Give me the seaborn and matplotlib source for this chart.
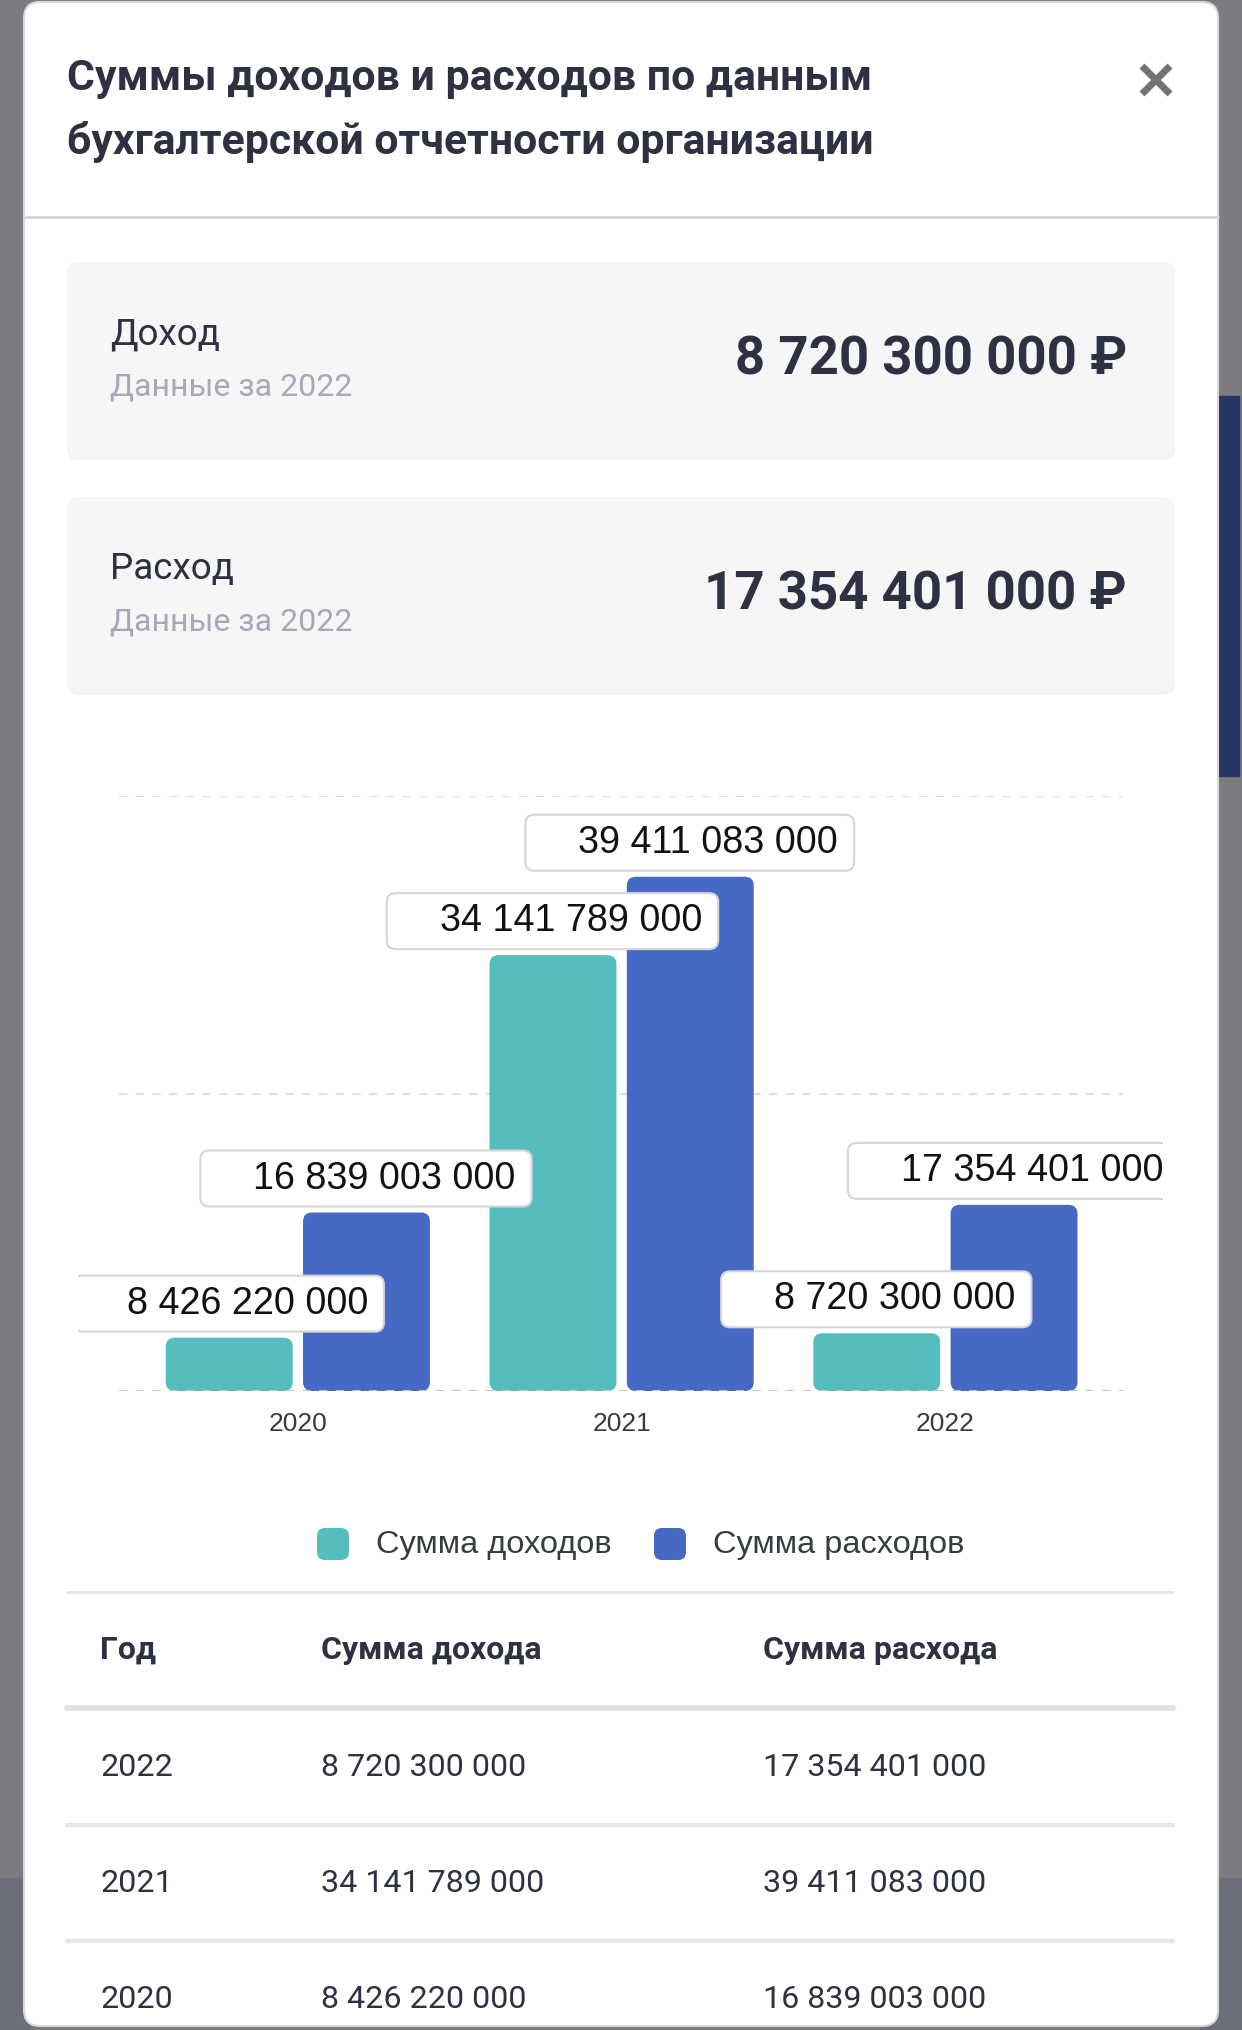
import matplotlib
matplotlib.use("Agg")
import matplotlib.pyplot as plt
from matplotlib.patches import FancyBboxPatch, Rectangle
from matplotlib.transforms import IdentityTransform
import pandas as pd
import seaborn as sns

# ---- data -------------------------------------------------------------
years = ["2020", "2021", "2022"]
income = [8426220000, 34141789000, 8720300000]
expense = [16839003000, 39411083000, 17354401000]
series_names = ["Сумма доходов", "Сумма расходов"]
title_lines = ["Суммы доходов и расходов по данным",
               "бухгалтерской отчетности организации"]
card_titles = ["Доход", "Расход"]
card_values = [8720300000, 17354401000]
card_year = "2022"
table_header = ["Год", "Сумма дохода", "Сумма расхода"]

TEAL = "#56bdbf"
BLUE = "#4669c4"
DARK = "#2d3142"
W, H = 1242, 2030

sns.set_theme(style="white")
plt.rcParams["font.family"] = ["Roboto", "DejaVu Sans"]
CHART_FONT = ["Liberation Sans", "DejaVu Sans"]


def fmt(v):
    return f"{int(round(v)):,}".replace(",", " ")


fig = plt.figure(figsize=(W / 100, H / 100), dpi=100)
fig.patch.set_facecolor("#7b7b80")

# page layer in pixel coordinates
bg = fig.add_axes([0, 0, 1, 1], zorder=0)
bg.set_xlim(0, W)
bg.set_ylim(H, 0)
bg.axis("off")

bg.add_patch(Rectangle((0, 1878), 30, H - 1878, color="#6c6f7a"))
bg.add_patch(Rectangle((1200, 1878), 42, H - 1878, color="#6c6f7a"))
bg.add_patch(Rectangle((1219, 396), 20, 380, color="#263766"))
bg.add_patch(FancyBboxPatch((24, 2), 1194, H - 6, boxstyle="round,pad=0,rounding_size=16",
                            facecolor="white", edgecolor="#d8d8dc", lw=1.5))

# header
for i, line in enumerate(title_lines):
    bg.text(67, 78 + 64 * i, line, fontsize=30.8, weight="bold", color=DARK, va="center")
bg.plot([1142, 1170], [66, 94], color="#737373", lw=5, solid_capstyle="butt")
bg.plot([1142, 1170], [94, 66], color="#737373", lw=5, solid_capstyle="butt")
bg.plot([24, 1218], [217, 217], color="#d6d6da", lw=2)

# summary cards
for i, (name, val) in enumerate(zip(card_titles, card_values)):
    top = 262 + 235 * i
    bg.add_patch(FancyBboxPatch((67, top + 4), 1108, 194, boxstyle="round,pad=0,rounding_size=12",
                                facecolor="#ececee", edgecolor="none", alpha=0.6))
    bg.add_patch(FancyBboxPatch((67, top), 1108, 194, boxstyle="round,pad=0,rounding_size=12",
                                facecolor="#f6f6f7", edgecolor="none"))
    bg.text(110, top + 72, name, fontsize=26.5, color=DARK, va="center")
    bg.text(110, top + 125, f"Данные за {card_year}", fontsize=23, color="#a6a8ba", va="center")
    bg.text(1127, top + 98, f"{fmt(val)} ₽", fontsize=38, weight="bold", color=DARK,
            va="center", ha="right")

# ---- chart --------------------------------------------------------------
y0 = 4.84e9
step = 20e9
ax = fig.add_axes([78 / W, 1 - 1391 / H, (1163 - 78) / W, (1391 - 796) / H], zorder=1)
ax.patch.set_alpha(0)

df = pd.DataFrame({
    "year": years * 2,
    "value": income + expense,
    "series": [series_names[0]] * len(years) + [series_names[1]] * len(years),
})
sns.barplot(data=df, x="year", y="value", hue="series", palette=[TEAL, BLUE],
            width=0.848, gap=0.0755, saturation=1, legend=False, ax=ax, zorder=2)
bars = list(ax.patches)

ax.set_xlim(-0.679, 2.672)
ax.set_ylim(y0, y0 + 2 * step)
for k in range(3):
    ax.hlines(y0 + k * step, -0.552, 2.548, colors="#c4c4c8" if k == 0 else "#e0e0e4",
              linestyles=(0, (4, 4)), lw=1.5, zorder=1 if k else 4)
sns.despine(ax=ax, left=True, bottom=True)
ax.set_xlabel("")
ax.set_ylabel("")
ax.set_yticks([])
ax.tick_params(axis="x", length=7, width=1, color="#c8c8cc", pad=8,
               labelsize=19, labelcolor="#373d3f")
for t in ax.get_xticklabels():
    t.set_family(CHART_FONT)

# value labels
labels = []
for p in bars:
    cx = p.get_x() + p.get_width() / 2
    t = ax.annotate(fmt(p.get_height()), (cx, p.get_height()), xytext=(18, 34),
                    textcoords="offset pixels", ha="center", va="center",
                    fontsize=27.2, family=CHART_FONT, color="#111111", zorder=6)
    t.set_clip_on(True)
    labels.append(t)

fig.canvas.draw()
base = ax.transData.transform((0, y0))[1]
for p, t in zip(bars, labels):
    bb = p.get_window_extent()
    p.set_visible(False)
    ax.add_artist(FancyBboxPatch((bb.x0, base), bb.width, bb.y1 - base,
                                 boxstyle="round,pad=0,rounding_size=9",
                                 transform=IdentityTransform(),
                                 facecolor=p.get_facecolor(), edgecolor="none", zorder=3))
    tb = t.get_window_extent()
    ax.add_artist(FancyBboxPatch((tb.x0 - 53, bb.y1 + 6), tb.width + 69, 56,
                                 boxstyle="round,pad=0,rounding_size=9",
                                 transform=IdentityTransform(),
                                 facecolor="white", edgecolor="#d4d4da", lw=1.5, zorder=5))

# legend
for i, (name, col) in enumerate(zip(series_names, [TEAL, BLUE])):
    mx = 317 + 337 * i
    bg.add_patch(FancyBboxPatch((mx, 1528), 32, 32, boxstyle="round,pad=0,rounding_size=8",
                                facecolor=col, edgecolor="none"))
    bg.text(mx + 59, 1545, name, fontsize=23.4, color="#373d3f", va="center",
            family=CHART_FONT)

# table
col_x = [100, 321, 763]
bg.plot([67, 1173], [1592, 1592], color="#e6e6ea", lw=2)
for x, h in zip(col_x, table_header):
    bg.text(x, 1650, h, fontsize=23, weight="bold", color=DARK, va="center")
bg.plot([67, 1173], [1708, 1708], color="#e0e1e7", lw=4)
for r, i in enumerate(range(len(years) - 1, -1, -1)):
    yy = 1767 + 116 * r
    for x, v in zip(col_x, [years[i], fmt(income[i]), fmt(expense[i])]):
        bg.text(x, yy, v, fontsize=23.2, color=DARK, va="center")
    if r < len(years) - 1:
        bg.plot([67, 1173], [yy + 58, yy + 58], color="#e6e6ea", lw=3)

fig.savefig("out.png", dpi=100, facecolor=fig.get_facecolor())
